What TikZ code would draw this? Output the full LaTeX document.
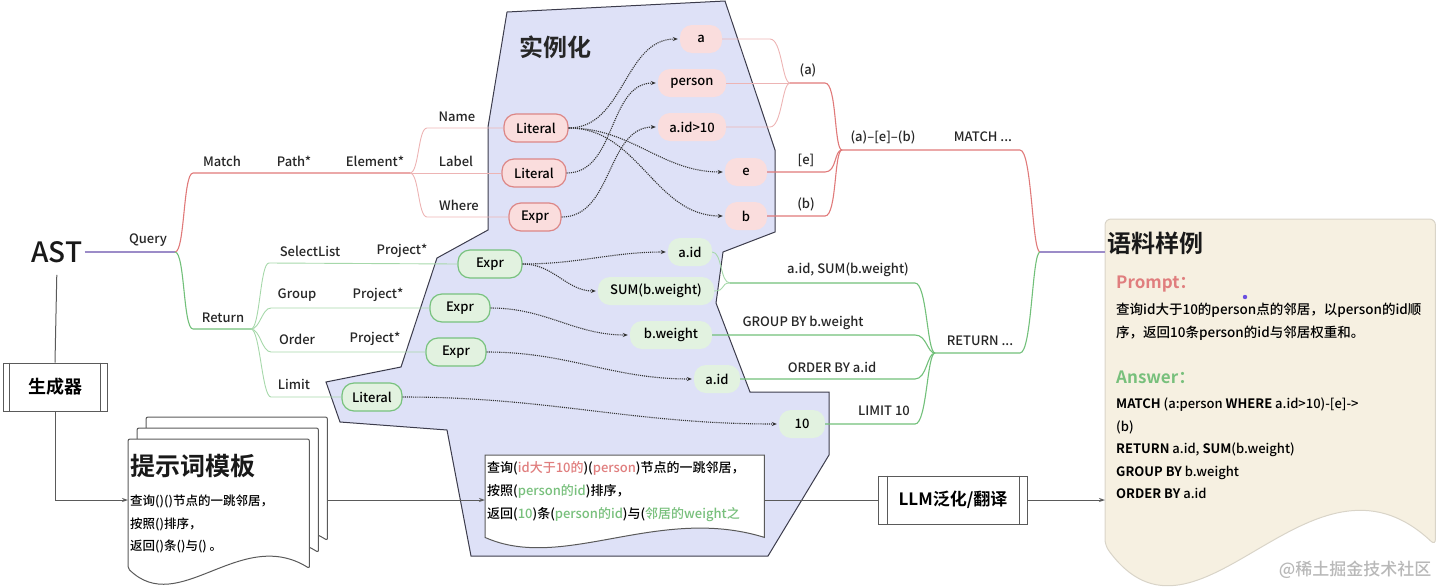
\documentclass[tikz,border=0pt]{standalone}
\usepackage{fontspec}
\setmainfont{Noto Sans CJK SC}[UprightFont={* Medium},BoldFont={* Bold}]
\usepackage{xcolor}
\usetikzlibrary{arrows.meta,calc}
\definecolor{polyfill}{HTML}{DEE1F7}
\definecolor{polyline}{HTML}{3C3C4C}
\definecolor{redline}{HTML}{E07A7A}
\definecolor{pinkline}{HTML}{EDB4B4}
\definecolor{pinkfill}{HTML}{FADDDD}
\definecolor{redborder}{HTML}{DC8686}
\definecolor{greenline}{HTML}{72C07A}
\definecolor{greenthin}{HTML}{A6D8AA}
\definecolor{greenfill}{HTML}{E2F2E0}
\definecolor{greenborder}{HTML}{78C27E}
\definecolor{astline}{HTML}{9C8CC8}
\definecolor{paper}{HTML}{F6F0E1}
\definecolor{paperline}{HTML}{D9D4C8}
\definecolor{flowgray}{HTML}{5A5A5A}
\definecolor{promptred}{HTML}{E07E7E}
\definecolor{answergreen}{HTML}{78C07C}
\definecolor{dotblue}{HTML}{6A4FE0}
% document outline with a wavy lower edge: #2 node, #3 crest, #4 trough
\newcommand{\wavedoc}[4][]{%
  \draw[#1] (#2.south west) -- (#2.north west) -- (#2.north east) -- (#2.south east)
    .. controls ($(#2.south west)!0.62!(#2.south east)+(0,#3pt)$)
    and ($(#2.south west)!0.28!(#2.south east)+(0,-#4pt)$) .. (#2.south west) -- cycle;}

\begin{document}
\begin{tikzpicture}[x=1pt,y=-1pt,
  lbl/.style={font=\fontsize{13}{15}\selectfont,text=black!85,inner sep=1pt},
  rpill/.style={rounded corners=12pt,draw=redborder,line width=1.2pt,fill=pinkfill,minimum height=28pt,minimum width=52pt,inner xsep=10pt,font=\fontsize{13}{15}\selectfont},
  rtag/.style={rounded corners=12pt,fill=pinkfill,minimum height=28pt,minimum width=42pt,inner xsep=10pt,font=\fontsize{13}{15}\selectfont},
  gpill/.style={rpill,draw=greenborder,fill=greenfill,minimum width=60pt},
  gtag/.style={rtag,fill=greenfill,minimum width=44pt},
  rbr/.style={draw=redline,line width=1.1pt},
  rtn/.style={draw=pinkline,line width=0.9pt},
  gbr/.style={draw=greenline,line width=1.1pt},
  gtn/.style={draw=greenthin,line width=0.9pt},
  dar/.style={densely dotted,line width=1.1pt,draw=black!80,shorten >=2pt,-{Stealth[length=5pt,width=4pt]}},
  flow/.style={draw=flowgray,line width=1pt},
  far/.style={flow,-{Stealth[length=6pt,width=4pt]}},
  procbox/.style={draw=flowgray,line width=1pt,fill=white,inner sep=0pt},
  docbox/.style={inner sep=0pt,anchor=north west}]
\useasboundingbox (0,0) rectangle (1440,587);
% instantiation area
\path[fill=polyfill,draw=polyline,line width=1pt] (507,12) -- (725,1) -- (775,150) -- (775,232)
  -- (723,252) -- (716,303) -- (750,392) -- (829,392) -- (829,455) -- (768,556) -- (471,556)
  -- (447,430) -- (340,422) -- (326,382) -- (401,367) -- (437,258) -- (488,230) -- (488,127) -- cycle;
\node[font=\fontsize{24}{28}\selectfont\bfseries,text=black!85] (inst) at (555,47) {实例化};

% tree nodes
\node[font=\fontsize{28}{30}\selectfont,text=black!90,inner sep=2pt] (ast) at (57,252) {AST};
\coordinate (q) at (175,252);
\coordinate (m) at (410,173);
\coordinate (ret) at (251,329);
\coordinate (ja) at (790,83);
\coordinate (jm) at (842,150);
\coordinate (jg) at (730,283);
\coordinate (jn) at (935,353);
\coordinate (jr) at (1040,252);
\coordinate (flowlvl) at (0,500);

\node[lbl] (lquery) at (148,240) {Query};
\node[lbl] (lmatch) at (222,161) {Match};
\node[lbl] (lpath) at (294,161) {Path*};
\node[lbl] (lelem) at (375,161) {Element*};
\node[lbl] (lname) at (457,117) {Name};
\node[lbl] (llabel) at (456,161) {Label};
\node[lbl] (lwhere) at (459,205) {Where};
\node[lbl] (lreturn) at (223,318) {Return};
\node[lbl] (lsel) at (310,251) {SelectList};
\node[lbl] (lproja) at (402,251) {Project*};
\node[lbl] (lgroup) at (297,295) {Group};
\node[lbl] (lprojb) at (378,295) {Project*};
\node[lbl] (lorder) at (297,339) {Order};
\node[lbl] (lprojc) at (375,339) {Project*};
\node[lbl] (llimit) at (294,384) {Limit};

\node[rpill,minimum width=64pt] (lit1) at (536,128) {Literal};
\node[rpill,minimum width=64pt] (lit2) at (534,173) {Literal};
\node[rpill] (rexpr) at (535,217) {Expr};
\node[rtag] (na) at (701,39) {a};
\node[rtag,minimum width=68pt] (nperson) at (692,83) {person};
\node[rtag,minimum width=68pt] (nid) at (692,127) {a.id>10};
\node[rtag] (ne) at (746,172) {e};
\node[rtag] (nb) at (746,216) {b};

\node[gpill,minimum width=64pt] (gexpra) at (490,264) {Expr};
\node[gpill] (gexprb) at (460,308) {Expr};
\node[gpill] (gexprc) at (456,352) {Expr};
\node[gpill] (glit) at (372,397) {Literal};
\node[gtag] (gaid) at (690,252) {a.id};
\node[gtag,minimum width=116pt] (gsum) at (656,291) {SUM(b.weight)};
\node[gtag,minimum width=82pt] (gbw) at (671,335) {b.weight};
\node[gtag,minimum width=46pt] (gaidb) at (717,379) {a.id};
\node[gtag,minimum width=46pt] (gten) at (802,424) {10};

\node[lbl] (la) at (808,70) {(a)};
\node[lbl] (le) at (806,160) {[e]};
\node[lbl] (lb) at (806,204) {(b)};
\node[lbl] (lpat) at (883,137) {(a)--[e]--(b)};
\node[lbl] (lmatchq) at (983,137) {MATCH ...};
\node[lbl] (lselq) at (848,270) {a.id, SUM(b.weight)};
\node[lbl] (lgroupq) at (803,323) {GROUP BY b.weight};
\node[lbl] (lorderq) at (832,367) {ORDER BY a.id};
\node[lbl] (llimitq) at (884,411) {LIMIT 10};
\node[lbl] (lreturnq) at (980,341) {RETURN ...};

% AST branches
\draw[astline,line width=1.1pt] (ast.east) -- (q);
\draw[rbr] (q) .. controls +(10,0) and +(-10,0) .. ++(18,-79) -- (m);
\draw[rtn] (m) .. controls +(9,0) and +(-9,0) .. ++(17,-45) -- (lit1.west);
\draw[rtn] (m) -- (lit2.west);
\draw[rtn] (m) .. controls +(9,0) and +(-9,0) .. ++(17,44) -- (rexpr.west);
\draw[gbr] (q) .. controls +(10,0) and +(-10,0) .. ++(18,77) -- (ret);
\draw[gtn] (ret) .. controls +(9,0) and +(-9,0) .. ++(18,-66) -- (gexpra.west);
\draw[gtn] (ret) .. controls +(9,0) and +(-9,0) .. ++(20,-21) -- (gexprb.west);
\draw[gtn] (ret) .. controls +(9,0) and +(-9,0) .. ++(20,23) -- (gexprc.west);
\draw[gtn] (ret) .. controls +(9,0) and +(-9,0) .. ++(20,68) -- (glit.west);

% instantiation
\draw[dar] (lit1.east) to[out=0,in=180] (na.west);
\draw[dar] (lit1.east) to[out=0,in=180] (ne.west);
\draw[dar] (lit1.east) to[out=0,in=180] (nb.west);
\draw[dar] (lit2.east) to[out=0,in=180] (nperson.west);
\draw[dar] (rexpr.east) to[out=0,in=180] (nid.west);
\draw[dar] (gexpra.east) to[out=0,in=180] (gaid.west);
\draw[dar] (gexpra.east) to[out=0,in=180] (gsum.west);
\draw[dar] (gexprb.east) to[out=0,in=180] (gbw.west);
\draw[dar] (gexprc.east) to[out=0,in=180] (gaidb.west);
\draw[dar] (glit.east) to[out=0,in=180] (gten.west);

% merging back into a query
\draw[rtn] (na.east) -- ($(na.east -| ja)+(-20,0)$) .. controls +(12,0) and +(-8,0) .. (ja);
\draw[rtn] (nperson.east) -- (ja);
\draw[rtn] (nid.east) -- ($(nid.east -| ja)+(-20,0)$) .. controls +(12,0) and +(-8,0) .. (ja);
\draw[rbr] (ja) -- ($(ja -| jm)+(-17,0)$) .. controls +(12,0) and +(-8,0) .. (jm);
\draw[rbr] (ne.east) -- ($(ne.east -| jm)+(-17,0)$) .. controls +(12,0) and +(-8,0) .. (jm);
\draw[rbr] (nb.east) -- ($(nb.east -| jm)+(-17,0)$) .. controls +(12,0) and +(-8,0) .. (jm);
\draw[rbr] (jm) -- ($(jm -| jr)+(-20,0)$) .. controls +(12,0) and +(-8,0) .. (jr);
\draw[gtn] (gaid.east) .. controls +(10,0) and +(-10,0) .. (jg);
\draw[gtn] (gsum.east) .. controls +(12,0) and +(-10,0) .. (jg);
\draw[gbr] (jg) -- ($(jg -| jn)+(-20,0)$) .. controls +(12,0) and +(-8,0) .. (jn);
\draw[gbr] (gbw.east) -- ($(gbw.east -| jn)+(-20,0)$) .. controls +(12,0) and +(-8,0) .. (jn);
\draw[gbr] (gaidb.east) -- ($(gaidb.east -| jn)+(-20,0)$) .. controls +(12,0) and +(-8,0) .. (jn);
\draw[gbr] (gten.east) -- ($(gten.east -| jn)+(-20,0)$) .. controls +(12,0) and +(-8,0) .. (jn);
\draw[gbr] (jn) -- ($(jn -| jr)+(-20,0)$) .. controls +(12,0) and +(-8,0) .. (jr);

% generator and templates
\node[procbox,minimum width=104pt,minimum height=48pt,font=\fontsize{18}{20}\selectfont\bfseries] (gen) at (55,387) {生成器};
\draw[flow] ([xshift=7pt]gen.north west) -- ([xshift=7pt]gen.south west)
  ([xshift=-7pt]gen.north east) -- ([xshift=-7pt]gen.south east);
\node[docbox,minimum width=181pt,minimum height=123pt] (tplc) at (146,417) {};
\node[docbox,minimum width=181pt,minimum height=124pt] (tplb) at (137,428) {};
\node[docbox,minimum width=181pt,minimum height=129pt] (tpl) at (128,439) {};
\wavedoc[flow,fill=white,rounded corners=2pt]{tplc}{43}{50}
\wavedoc[flow,fill=white,rounded corners=2pt]{tplb}{43}{50}
\wavedoc[flow,fill=white,rounded corners=2pt]{tpl}{43}{50}
\node[anchor=west,inner sep=0pt,font=\fontsize{25}{28}\selectfont\bfseries,text=black!90] (tplhead) at (130,466) {提示词模板};
\node[anchor=north west,align=left,inner sep=0pt,font=\fontsize{12.5}{22.5}\selectfont] (tpltext) at (130,495)
  {查询()()节点的一跳邻居，\\按照()排序，\\返回()条()与() 。};

\node[docbox,minimum width=279pt,minimum height=82pt] (doctwo) at (485,455) {};
\wavedoc[flow,fill=white]{doctwo}{33}{35}
\node[anchor=north west,align=left,inner sep=0pt,font=\fontsize{13}{23}\selectfont] (doctext) at (487,461)
  {查询(\textcolor{promptred}{id大于10的})(\textcolor{promptred}{person})节点的一跳邻居，\\
   按照(\textcolor{answergreen}{person的id})排序，\\
   返回(\textcolor{answergreen}{10})条(\textcolor{answergreen}{person的id})与(\textcolor{answergreen}{邻居的weight之}};

\node[procbox,minimum width=149pt,minimum height=48pt,font=\fontsize{17}{20}\selectfont\bfseries] (llm) at (953,500) {LLM泛化/翻译};
\draw[flow] ([xshift=9pt]llm.north west) -- ([xshift=9pt]llm.south west)
  ([xshift=-9pt]llm.north east) -- ([xshift=-9pt]llm.south east);

% corpus sample
\node[docbox,minimum width=330pt,minimum height=326pt] (res) at (1105,219) {};
\wavedoc[draw=paperline,line width=1pt,fill=paper,rounded corners=6pt]{res}{118}{128}
\node[anchor=west,inner sep=0pt,font=\fontsize{24}{28}\selectfont\bfseries,text=black!90] (restitle) at (1107,243) {语料样例};
\node[anchor=west,inner sep=0pt,font=\fontsize{17}{20}\selectfont\bfseries,text=promptred] (prompt) at (1116,284) {Prompt：};
\node[anchor=north west,align=left,inner sep=0pt,font=\fontsize{13.5}{23}\selectfont] (ptext) at (1116,303)
  {查询id大于10的person点的邻居，以person的id顺\\序，返回10条person的id与邻居权重和。};
\node[anchor=west,inner sep=0pt,font=\fontsize{17}{20}\selectfont\bfseries,text=answergreen] (answer) at (1116,377) {Answer：};
\node[anchor=north west,align=left,inner sep=0pt,font=\fontsize{13}{22.5}\selectfont] (atext) at (1116,398)
  {\textbf{MATCH} (a:person \textbf{WHERE} a.id>10)-[e]->\\(b)\\\textbf{RETURN} a.id, \textbf{SUM}(b.weight)\\
   \textbf{GROUP BY} b.weight\\\textbf{ORDER BY} a.id};
\fill[dotblue] (1245,297) circle (2.2pt);
\node[text=black!28,font=\fontsize{17}{20}\selectfont] (mark) at (1355,570) {@稀土掘金技术社区};

% flow of the generator
\draw[astline,line width=1.1pt] (jr) -- (jr -| res.west);
\draw[flow,shorten <=10pt] (ast.south) -- (gen.north);
\draw[far] (gen.south) |- (tpl.west |- flowlvl);
\draw[far] (tplc.east |- flowlvl) -- (doctwo.west |- flowlvl);
\draw[flow] (doctwo.east |- flowlvl) -- (llm.west);
\draw[far] (llm.east) -- (llm.east -| res.west);
\end{tikzpicture}
\end{document}
